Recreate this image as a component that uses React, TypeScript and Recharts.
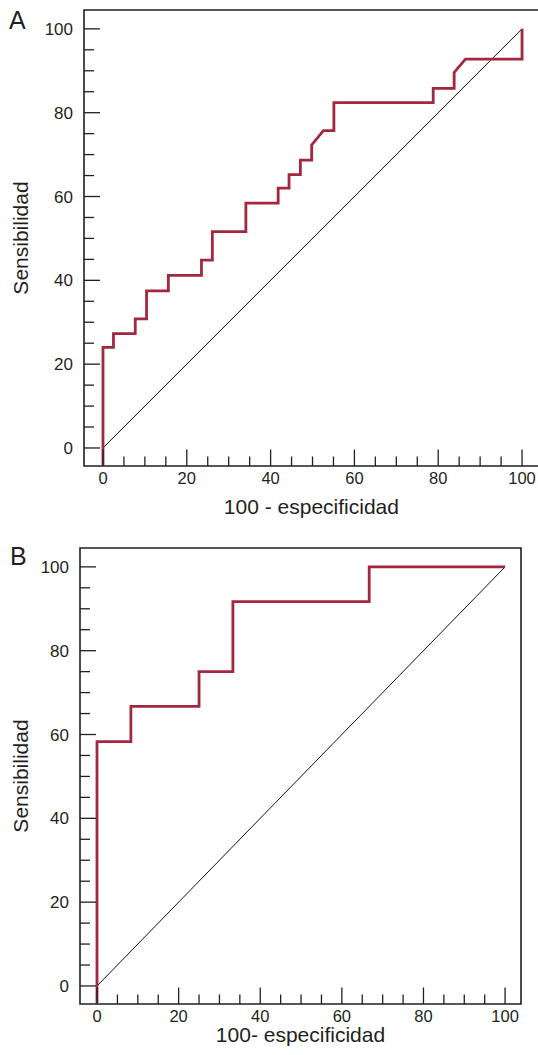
import React from "react";
import {
  LineChart,
  Line,
  XAxis,
  YAxis,
  ReferenceArea,
} from "recharts";

// panel A: ROC curve (100 - especificidad, sensibilidad)
const rocA = [
  { x: 0, y: -4.3 },
  { x: 0, y: 24 },
  { x: 2.5, y: 24 },
  { x: 2.5, y: 27.3 },
  { x: 7.7, y: 27.3 },
  { x: 7.7, y: 30.8 },
  { x: 10.4, y: 30.8 },
  { x: 10.4, y: 37.5 },
  { x: 15.6, y: 37.5 },
  { x: 15.6, y: 41.2 },
  { x: 23.5, y: 41.2 },
  { x: 23.5, y: 44.8 },
  { x: 26.1, y: 44.8 },
  { x: 26.1, y: 51.6 },
  { x: 34.1, y: 51.6 },
  { x: 34.1, y: 58.4 },
  { x: 41.8, y: 58.4 },
  { x: 41.8, y: 62 },
  { x: 44.4, y: 62 },
  { x: 44.4, y: 65.2 },
  { x: 47.1, y: 65.2 },
  { x: 47.1, y: 68.7 },
  { x: 49.8, y: 68.7 },
  { x: 49.8, y: 72.3 },
  { x: 52.6, y: 75.7 },
  { x: 55.1, y: 75.7 },
  { x: 55.1, y: 82.4 },
  { x: 78.8, y: 82.4 },
  { x: 78.8, y: 85.8 },
  { x: 83.8, y: 85.8 },
  { x: 83.8, y: 89.6 },
  { x: 86.5, y: 92.8 },
  { x: 100, y: 92.8 },
  { x: 100, y: 100 },
];

// panel B
const rocB = [
  { x: 0, y: -4.3 },
  { x: 0, y: 58.3 },
  { x: 8.3, y: 58.3 },
  { x: 8.3, y: 66.7 },
  { x: 25, y: 66.7 },
  { x: 25, y: 75 },
  { x: 33.3, y: 75 },
  { x: 33.3, y: 91.7 },
  { x: 66.7, y: 91.7 },
  { x: 66.7, y: 100 },
  { x: 100, y: 100 },
];

const diagonal = [
  { x: 0, y: 0 },
  { x: 100, y: 100 },
];

const ticks = [0, 5, 10, 15, 20, 25, 30, 35, 40, 45, 50, 55, 60, 65, 70, 75, 80, 85, 90, 95, 100];

const INK = "#231f20";
const RED = "#a3273f";
const FONT = "'Liberation Sans', Arial, Helvetica, sans-serif";

const YTick = ({ x, y, payload }: any) => {
  const v = payload.value;
  const major = v % 20 === 0;
  return (
    <g>
      <line x1={x} x2={x + (major ? 16 : 10)} y1={y} y2={y} stroke={INK} strokeWidth={1.3} />
      {major && (
        <text x={x - 11} y={y} dy="0.36em" textAnchor="end" fontSize={17} fill={INK} fontFamily={FONT}>
          {v}
        </text>
      )}
    </g>
  );
};

const XTick = ({ x, y, payload }: any) => {
  const v = payload.value;
  const major = v % 20 === 0;
  return (
    <g>
      <line x1={x} x2={x} y1={y} y2={y - (major ? 16.5 : 9.5)} stroke={INK} strokeWidth={1.3} />
      {major && (
        <text x={x} y={y + 6} dy="0.71em" textAnchor="middle" fontSize={16.5} fill={INK} fontFamily={FONT}>
          {v}
        </text>
      )}
    </g>
  );
};

function RocPanel({ width, height, margin, xDomain, yDomain, xAxisHeight, xLabel, xLabelOffset, yLabelOffset, data }: any) {
  return (
    <LineChart width={width} height={height} margin={margin}>
      <XAxis
        type="number"
        dataKey="x"
        domain={xDomain}
        ticks={ticks}
        interval={0}
        height={xAxisHeight}
        axisLine={false}
        tickLine={false}
        tickSize={0}
        tickMargin={0}
        tick={<XTick />}
        label={{ value: xLabel, position: "insideBottom", offset: xLabelOffset, fontSize: 21, fill: INK, fontFamily: FONT }}
      />
      <YAxis
        type="number"
        dataKey="y"
        domain={yDomain}
        ticks={ticks}
        interval={0}
        width={70}
        axisLine={false}
        tickLine={false}
        tickSize={0}
        tickMargin={0}
        tick={<YTick />}
        label={{
          value: "Sensibilidad",
          angle: -90,
          position: "insideLeft",
          offset: yLabelOffset,
          fontSize: 21,
          fill: INK,
          fontFamily: FONT,
          style: { textAnchor: "middle" },
        }}
      />
      <ReferenceArea
        x1={xDomain[0]}
        x2={xDomain[1]}
        y1={yDomain[0]}
        y2={yDomain[1]}
        fill="none"
        fillOpacity={0}
        stroke={INK}
        strokeWidth={1.6}
      />
      <Line
        data={diagonal}
        dataKey="y"
        type="linear"
        stroke="#111"
        strokeWidth={1}
        dot={false}
        activeDot={false}
        isAnimationActive={false}
      />
      <Line
        data={data}
        dataKey="y"
        type="linear"
        stroke={RED}
        strokeWidth={2.8}
        strokeLinejoin="miter"
        dot={false}
        activeDot={false}
        isAnimationActive={false}
      />
    </LineChart>
  );
}

export default function App() {
  return (
    <div
      style={{
        position: "fixed",
        left: 0,
        top: 0,
        width: 538,
        height: 1055,
        overflow: "hidden",
        background: "#fff",
      }}
    >
      <div style={{ position: "absolute", left: 0, top: 0 }}>
        <RocPanel
          width={560}
          height={530}
          margin={{ top: 10, right: 21.2, bottom: 4, left: 14 }}
          xDomain={[-4.53, 104]}
          yDomain={[-4.3, 104.5]}
          xAxisHeight={60}
          xLabel="100 - especificidad"
          xLabelOffset={12}
          yLabelOffset={7}
          data={rocA}
        />
      </div>
      <div style={{ position: "absolute", left: 0, top: 530 }}>
        <RocPanel
          width={538}
          height={525}
          margin={{ top: 18, right: 17, bottom: 4, left: 10 }}
          xDomain={[-4.17, 103.9]}
          yDomain={[-4.3, 104.5]}
          xAxisHeight={47}
          xLabel="100- especificidad"
          xLabelOffset={9}
          yLabelOffset={11}
          data={rocB}
        />
      </div>
      <svg width={538} height={1055} style={{ position: "absolute", left: 0, top: 0, pointerEvents: "none" }}>
        <text x={9} y={29.3} fontSize={25} fill={INK} fontFamily={FONT}>
          A
        </text>
        <text x={10} y={565.3} fontSize={25} fill={INK} fontFamily={FONT}>
          B
        </text>
      </svg>
    </div>
  );
}
